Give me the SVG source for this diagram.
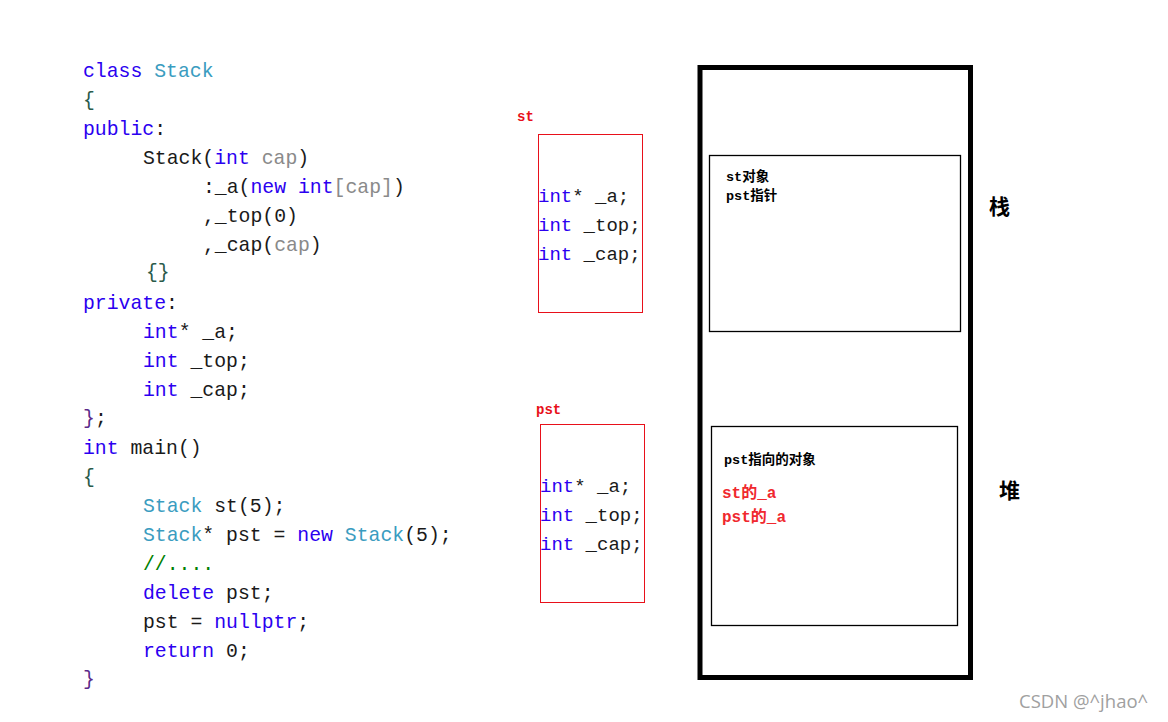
<svg xmlns="http://www.w3.org/2000/svg" width="1168" height="722" viewBox="0 0 1168 722">
<style>
.code{font-family:"Liberation Mono","Noto Sans CJK SC",monospace;font-size:19.8px;fill:#1a1a1a}
.mem{font-family:"Liberation Mono","Noto Sans CJK SC",monospace;font-size:19px;fill:#1a1a1a}
.kw{fill:#2b00f0}
.ty{fill:#3a9cc0}
.pm{fill:#8a8a8a}
.cm{fill:#008000}
.br{fill:#2a5a4a}
.lbl{font-family:"Liberation Mono","Noto Sans CJK SC",monospace;font-weight:bold;font-size:14px;fill:#e8101a}
.note{font-family:"Liberation Mono","Noto Sans CJK SC",monospace;font-weight:bold;font-size:13.5px;fill:#000}
.red{font-family:"Liberation Mono","Noto Sans CJK SC",monospace;font-weight:bold;font-size:16px;fill:#f0282e}
.big{font-family:"Noto Sans CJK SC",sans-serif;font-weight:bold;font-size:21px;fill:#000}
.rbox{fill:none;stroke:#e8101a;stroke-width:1}
.bbox{fill:none;stroke:#000;stroke-width:1.3}
</style>
<rect width="1168" height="722" fill="#fff"/>
<g id="code">
<text class="code" x="83" y="77"><tspan class="kw">class</tspan> <tspan class="ty">Stack</tspan></text>
<text class="code br" x="83" y="106">{</text>
<text class="code" x="83" y="135"><tspan class="kw">public</tspan>:</text>
<text class="code" x="143" y="164">Stack(<tspan class="kw">int</tspan> <tspan class="pm">cap</tspan>)</text>
<text class="code" x="203" y="193">:_a(<tspan class="kw">new</tspan> <tspan class="kw">int</tspan><tspan class="pm">[cap]</tspan>)</text>
<text class="code" x="203" y="222">,_top(0)</text>
<text class="code" x="203" y="251">,_cap(<tspan class="pm">cap</tspan>)</text>
<text class="code br" x="146" y="278">{}</text>
<text class="code" x="83" y="309"><tspan class="kw">private</tspan>:</text>
<text class="code" x="143" y="338"><tspan class="kw">int</tspan>* _a;</text>
<text class="code" x="143" y="367"><tspan class="kw">int</tspan> _top;</text>
<text class="code" x="143" y="396"><tspan class="kw">int</tspan> _cap;</text>
<text class="code" x="83" y="424"><tspan fill="#5a2a8a">}</tspan>;</text>
<text class="code" x="83" y="454"><tspan class="kw">int</tspan> main()</text>
<text class="code br" x="83" y="483">{</text>
<text class="code" x="143" y="512"><tspan class="ty">Stack</tspan> st(5);</text>
<text class="code" x="143" y="541"><tspan class="ty">Stack</tspan>* pst = <tspan class="kw">new</tspan> <tspan class="ty">Stack</tspan>(5);</text>
<text class="code cm" x="143" y="570">//....</text>
<text class="code" x="143" y="599"><tspan class="kw">delete</tspan> pst;</text>
<text class="code" x="143" y="628">pst = <tspan class="kw">nullptr</tspan>;</text>
<text class="code" x="143" y="657"><tspan class="kw">return</tspan> 0;</text>
<text class="code" x="83" y="685"><tspan fill="#5a2a8a">}</tspan></text>
</g>
<g id="st">
<text class="lbl" x="517" y="121">st</text>
<rect class="rbox" x="538.5" y="134.5" width="104" height="178"/>
<text class="mem" x="538" y="202"><tspan class="kw">int</tspan>* _a;</text>
<text class="mem" x="538" y="231"><tspan class="kw">int</tspan> _top;</text>
<text class="mem" x="538" y="260"><tspan class="kw">int</tspan> _cap;</text>
</g>
<g id="pst">
<text class="lbl" x="536" y="414">pst</text>
<rect class="rbox" x="540.5" y="424.5" width="104" height="178"/>
<text class="mem" x="540" y="492"><tspan class="kw">int</tspan>* _a;</text>
<text class="mem" x="540" y="521"><tspan class="kw">int</tspan> _top;</text>
<text class="mem" x="540" y="550"><tspan class="kw">int</tspan> _cap;</text>
</g>
<g id="memory">
<rect x="700" y="67.5" width="270.5" height="610" fill="none" stroke="#000" stroke-width="5"/>
</g>
<g id="stack">
<rect class="bbox" x="709.5" y="155.5" width="251" height="176"/>
<text class="note" x="726" y="181">st对象</text>
<text class="note" x="726" y="200">pst指针</text>
<text class="big" x="989" y="214">栈</text>
</g>
<g id="heap">
<rect class="bbox" x="711.5" y="426.5" width="246" height="199"/>
<text class="note" x="724" y="464">pst指向的对象</text>
<text class="red" x="722" y="498">st的_a</text>
<text class="red" x="722" y="522">pst的_a</text>
<text class="big" x="999" y="498">堆</text>
</g>
<g id="connectors"/>
<text x="1019" y="708" font-family="'Open Sans',sans-serif" font-size="18.5" fill="#a0a0a0">CSDN @^jhao^</text>
</svg>
